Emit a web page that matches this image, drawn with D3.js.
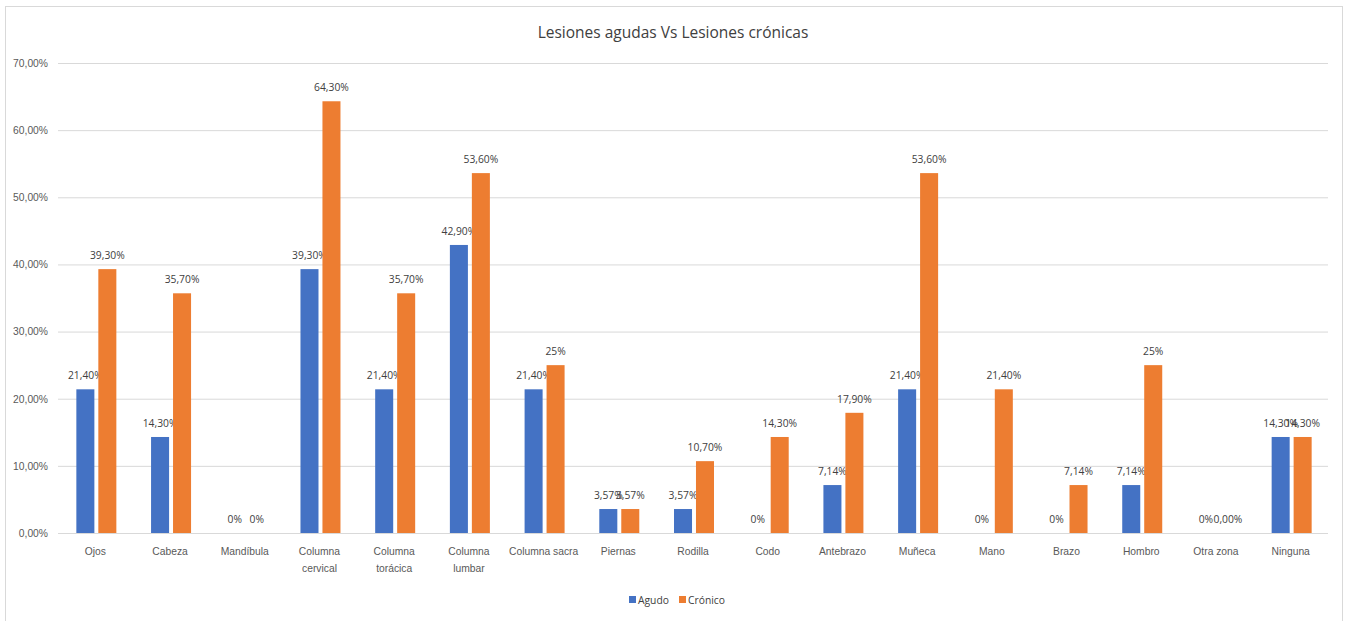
<!DOCTYPE html>
<html>
  <head>
    <meta charset="utf-8">
    <script src="https://cdn.jsdelivr.net/npm/d3@7/dist/d3.min.js"></script>
    <style>
      body { margin: 0; background: white; }
      svg { font-family: "Open Sans", sans-serif; }
      .tick text { fill: #595959; font-size: 10.3px; }
      .lbl { fill: #404040; font-size: 10.3px; }
    </style>
  </head>
  <body>
    <svg id="chart" width="1348" height="621"></svg>
    <script>
      var categories = ["Ojos", "Cabeza", "Mandíbula", "Columna cervical", "Columna torácica", "Columna lumbar",
        "Columna sacra", "Piernas", "Rodilla", "Codo", "Antebrazo", "Muñeca", "Mano", "Brazo", "Hombro", "Otra zona", "Ninguna"];
      var agudo = [21.4, 14.3, 0, 39.3, 21.4, 42.9, 21.4, 3.57, 3.57, 0, 7.14, 21.4, 0, 0, 7.14, 0, 14.3];
      var cronico = [39.3, 35.7, 0, 64.3, 35.7, 53.6, 25, 3.57, 10.7, 14.3, 17.9, 53.6, 21.4, 7.14, 25, 0, 14.3];
      var agudoLabels = ["21,40%", "14,30%", "0%", "39,30%", "21,40%", "42,90%", "21,40%", "3,57%", "3,57%", "0%",
        "7,14%", "21,40%", "0%", "0%", "7,14%", "0%", "14,30%"];
      var cronicoLabels = ["39,30%", "35,70%", "0%", "64,30%", "35,70%", "53,60%", "25%", "3,57%", "10,70%", "14,30%",
        "17,90%", "53,60%", "21,40%", "7,14%", "25%", "0,00%", "14,30%"];
      var yTicks = [0, 10, 20, 30, 40, 50, 60, 70];
      var seriesNames = ["Agudo", "Crónico"];
      var colors = ["#4472C4", "#ED7D31"];

      var svg = d3.select("#chart");
      var mLeft = 58, mRight = 1328, mTop = 63, mBottom = 533;

      // outer frame
      svg.append("rect")
        .attr("x", 5.5).attr("y", 6.5).attr("width", 1337).attr("height", 630)
        .style("fill", "none").style("stroke", "#d9d9d9");

      svg.append("text")
        .attr("x", 673).attr("y", 38)
        .attr("text-anchor", "middle")
        .style("font-size", "15.5px").style("fill", "#404040")
        .text("Lesiones agudas Vs Lesiones crónicas");

      var x = d3.scaleBand().domain(categories).range([mLeft, mRight]);
      var sub = d3.scaleBand().domain(seriesNames).range([x.bandwidth() / 2 - 19, x.bandwidth() / 2 + 21]).paddingInner(0.18);
      var y = d3.scaleLinear().domain([0, 70]).range([mBottom, mTop]);

      // grid + y axis
      var yAxis = svg.append("g")
        .attr("transform", "translate(" + mLeft + ",0)")
        .call(d3.axisLeft(y).tickValues(yTicks).tickSize(-(mRight - mLeft)).tickPadding(10)
          .tickFormat(d => d3.format(".2f")(d).replace(".", ",") + "%"));
      yAxis.select(".domain").remove();
      yAxis.selectAll(".tick line").style("stroke", "#d9d9d9");

      // x labels
      var xAxis = svg.append("g")
        .attr("transform", "translate(0," + mBottom + ")")
        .call(d3.axisBottom(x).tickSize(0).tickPadding(15));
      xAxis.select(".domain").remove();
      xAxis.selectAll(".tick text").each(function (d) {
        var t = d3.select(this);
        var words = d.split(" ");
        if (words.length > 1 && d !== "Columna sacra" && d !== "Otra zona") {
          t.text(null);
          words.forEach((w, i) => t.append("tspan").attr("x", 0).attr("dy", i === 0 ? "0.71em" : "1.6em").text(w));
        }
      });
      svg.append("line").attr("x1", mLeft).attr("x2", mRight).attr("y1", mBottom + 0.5).attr("y2", mBottom + 0.5)
        .style("stroke", "#d9d9d9");

      var series = [agudo, cronico];
      var labels = [agudoLabels, cronicoLabels];
      series.forEach(function (vals, s) {
        var g = svg.append("g");
        g.selectAll("rect")
          .data(vals)
          .enter()
          .append("rect")
          .attr("x", (d, i) => x(categories[i]) + sub(seriesNames[s]))
          .attr("width", sub.bandwidth())
          .attr("y", d => y(d))
          .attr("height", d => mBottom - y(d))
          .style("fill", colors[s]);
        g.selectAll("text")
          .data(vals)
          .enter()
          .append("text")
          .attr("class", "lbl")
          .attr("x", (d, i) => x(categories[i]) + sub(seriesNames[s]) + sub.bandwidth() / 2)
          .attr("y", d => y(d) - 10)
          .attr("text-anchor", "middle")
          .text((d, i) => labels[s][i]);
      });

      // legend
      var legend = svg.append("g").attr("transform", "translate(629,600)");
      var lx = [0, 50];
      seriesNames.forEach(function (n, i) {
        legend.append("rect").attr("x", lx[i]).attr("y", -4).attr("width", 7).attr("height", 7).style("fill", colors[i]);
        legend.append("text").attr("x", lx[i] + 9).attr("y", 4).attr("class", "lbl").text(n);
      });
    </script>
  </body>
</html>
